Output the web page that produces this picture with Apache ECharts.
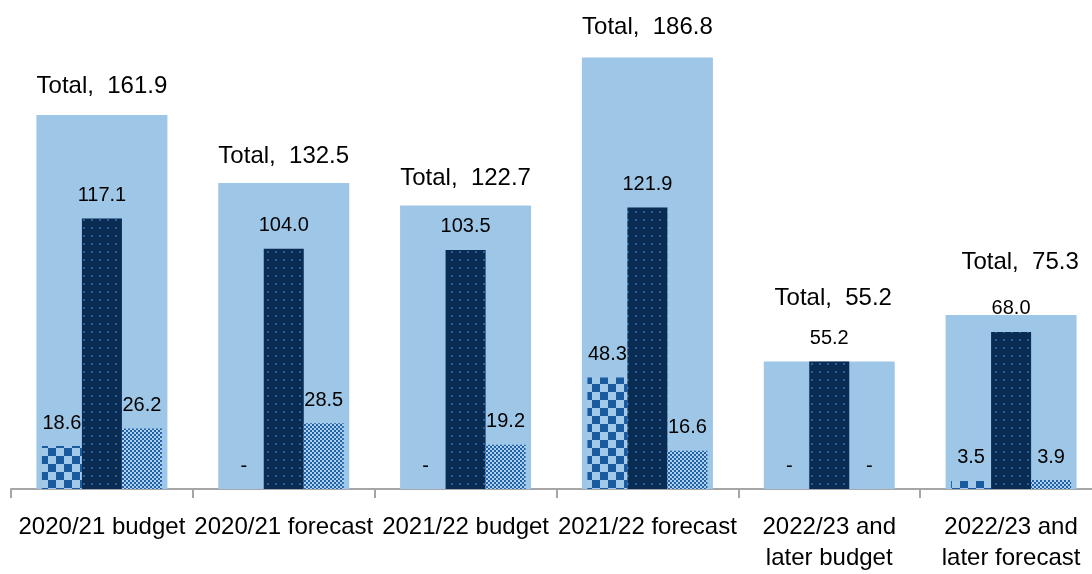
<!DOCTYPE html>
<html>
<head>
<meta charset="utf-8">
<script src="https://cdn.jsdelivr.net/npm/echarts@6/dist/echarts.min.js"></script>
<style>
  html, body { margin: 0; padding: 0; background: #fff; overflow: hidden; }
  #chart { width: 1102px; height: 574px; }
</style>
</head>
<body>
<div id="chart"></div>
<script>
// Funding by period (£m): total plus its three components
const categories = [
  '2020/21 budget',
  '2020/21 forecast',
  '2021/22 budget',
  '2021/22 forecast',
  '2022/23 and\nlater budget',
  '2022/23 and\nlater forecast'
];
const totals     = [161.9, 132.5, 122.7, 186.8, 55.2, 75.3];
const partA      = [18.6, 0, 0, 48.3, 0, 3.5];
const partB      = [117.1, 104.0, 103.5, 121.9, 55.2, 68.0];
const partC      = [26.2, 28.5, 19.2, 16.6, 0, 3.9];

const FONT = 'Liberation Sans, Arial, sans-serif';
const LIGHT = '#9dc6e7';

// Tile builders for the patterned fills
function tile(w, h, draw) {
  const c = document.createElement('canvas');
  c.width = w; c.height = h;
  draw(c.getContext('2d'));
  return { image: c, repeat: 'repeat' };
}
function checker(size, dark, light) {
  return tile(size * 2, size * 2, g => {
    g.fillStyle = light; g.fillRect(0, 0, size * 2, size * 2);
    g.fillStyle = dark;
    g.fillRect(0, 0, size, size);
    g.fillRect(size, size, size, size);
  });
}
const bigChecker = checker(8, '#1a5ba0', '#a3c9e9');
const fineChecker = checker(2, '#1f62a8', '#b0d1ee');
const dotted = tile(8, 8, g => {
  g.fillStyle = '#0a2b52'; g.fillRect(0, 0, 8, 8);
  g.fillStyle = '#245f9c'; g.fillRect(3, 3, 2, 2);
});

// Per-category lift / shift of the "Total" labels
const totalLift = [17, 15, 15, 18, 51, 41];
const totalShift = [0, 0, 0, 0, 4, 9];

const valueLabel = {
  show: true,
  position: 'top',
  distance: 13,
  fontFamily: FONT,
  fontSize: 20,
  color: '#000',
  formatter: p => (p.value === 0 ? '-' : p.value.toFixed(1))
};

function partSeries(name, data, color) {
  return {
    name, type: 'bar', xAxisIndex: 1, data,
    barWidth: 40, barGap: '0%',
    itemStyle: { color },
    label: valueLabel,
    emphasis: { disabled: true }
  };
}

const chart = echarts.init(document.getElementById('chart'), null, { renderer: 'canvas' });
chart.setOption({
  animation: false,
  backgroundColor: '#fff',
  grid: { left: 11, top: 27, right: 0, height: 464 },
  xAxis: [
    {
      type: 'category',
      data: categories,
      axisLine: { lineStyle: { color: '#a6a6a6', width: 2 } },
      axisTick: { show: true, length: 9, lineStyle: { color: '#a6a6a6', width: 2 } },
      axisLabel: {
        interval: 0, margin: 23,
        fontFamily: FONT, fontSize: 24, color: '#000', lineHeight: 31
      }
    },
    { type: 'category', data: categories, show: false }
  ],
  yAxis: {
    type: 'value', min: 0, max: 200, show: false,
    splitLine: { show: false }
  },
  series: [
    {
      name: 'Total', type: 'bar', xAxisIndex: 0,
      barWidth: 131,
      itemStyle: { color: LIGHT },
      emphasis: { disabled: true },
      data: totals.map((v, i) => ({
        value: v,
        label: { distance: totalLift[i], offset: [totalShift[i], 0] }
      })),
      label: {
        show: true, position: 'top',
        fontFamily: FONT, fontSize: 24, color: '#000',
        formatter: p => 'Total,  ' + p.value.toFixed(1)
      }
    },
    partSeries('Component A', partA, bigChecker),
    partSeries('Component B', partB, dotted),
    partSeries('Component C', partC, fineChecker)
  ]
});
</script>
</body>
</html>
